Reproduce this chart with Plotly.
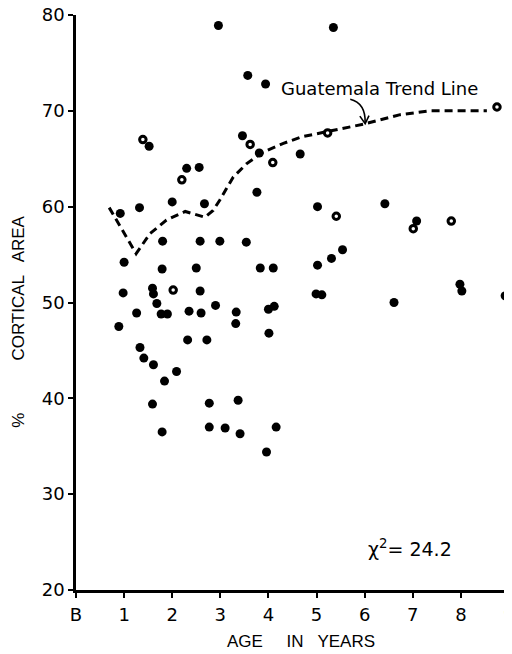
import plotly.graph_objects as go

# Solid dots: age (years), % cortical area
solid_age = [2.96, 3.57, 5.35, 3.94, 1.52, 3.46, 2.30, 2.56, 2.00, 2.67, 1.32, 0.92,
             3.76, 3.81, 4.66, 5.02, 6.42, 1.80, 2.58, 2.99, 3.54, 1.00, 1.79, 2.50,
             3.83, 4.10, 5.02, 5.31, 5.54, 0.98, 1.59, 1.61, 2.58, 4.99, 5.11, 7.98,
             8.02, 8.92, 6.61, 1.68, 1.26, 1.77, 1.90, 2.35, 2.60, 2.90, 3.33, 3.32,
             4.00, 4.12, 0.89, 4.01, 2.32, 2.72, 1.33, 1.41, 1.61, 2.09, 1.84, 1.59,
             2.77, 3.37, 1.79, 2.77, 3.10, 3.41, 4.16, 3.96, 7.08]
solid_pct = [78.9, 73.7, 78.7, 72.8, 66.3, 67.4, 64.0, 64.1, 60.5, 60.3, 59.9, 59.3,
             61.5, 65.6, 65.5, 60.0, 60.3, 56.4, 56.4, 56.4, 56.3, 54.2, 53.5, 53.6,
             53.6, 53.6, 53.9, 54.6, 55.5, 51.0, 51.5, 50.9, 51.2, 50.9, 50.8, 51.9,
             51.2, 50.7, 50.0, 49.9, 48.9, 48.8, 48.8, 49.1, 48.9, 49.7, 49.0, 47.8,
             49.3, 49.6, 47.5, 46.8, 46.1, 46.1, 45.3, 44.2, 43.5, 42.8, 41.8, 39.4,
             39.5, 39.8, 36.5, 37.0, 36.9, 36.3, 37.0, 34.4, 58.5]

# Ring (open-centred) dots
ring_age = [1.39, 3.62, 2.20, 4.09, 5.23, 5.41, 7.01, 7.80, 8.75, 2.02]
ring_pct = [67.0, 66.5, 62.8, 64.6, 67.7, 59.0, 57.7, 58.5, 70.4, 51.3]

# Guatemala trend line
trend_age = [0.69, 1.25, 1.54, 1.88, 2.27, 2.68, 2.85, 2.99, 3.27, 3.55, 3.89, 4.31,
             4.70, 5.21, 5.97, 6.74, 7.36, 8.54]
trend_pct = [59.9, 55.1, 57.2, 58.6, 59.5, 58.9, 59.6, 60.7, 63.1, 64.5, 65.7, 66.6,
             67.3, 67.8, 68.6, 69.6, 70.0, 70.0]

x_ticks = [0, 1, 2, 3, 4, 5, 6, 7, 8, 9]
x_labels = ["B", "1", "2", "3", "4", "5", "6", "7", "8", "9"]
y_ticks = [20, 30, 40, 50, 60, 70, 80]

# Curved pointer from label to trend line (data coordinates)
arrow_shaft = "M 5.70,71.2 Q 6.02,70.8 6.01,68.75"
arrow_head = "M 5.90,69.45 L 6.01,68.65 L 6.09,69.5"

FONT = "Liberation Sans"
TICKFONT = "DejaVu Sans"

fig = go.Figure()
fig.add_trace(go.Scatter(x=trend_age, y=trend_pct, mode="lines",
                         line=dict(color="black", width=3, dash="8px,5px"),
                         showlegend=False, hoverinfo="skip", cliponaxis=False))
fig.add_trace(go.Scatter(x=solid_age, y=solid_pct, mode="markers",
                         marker=dict(color="black", size=9, line=dict(width=0)),
                         showlegend=False, cliponaxis=False))
fig.add_trace(go.Scatter(x=ring_age, y=ring_pct, mode="markers",
                         marker=dict(color="white", size=6.5,
                                     line=dict(color="black", width=3)),
                         showlegend=False, cliponaxis=False))

fig.add_shape(type="path", path=arrow_shaft, xref="x", yref="y",
              line=dict(color="black", width=1.6))
fig.add_shape(type="path", path=arrow_head, xref="x", yref="y",
              line=dict(color="black", width=1.6))

fig.add_annotation(x=6.3, y=72.3, xref="x", yref="y", text="Guatemala Trend Line",
                   showarrow=False, font=dict(family=TICKFONT, size=18, color="black"))
fig.add_annotation(x=6.95, y=24.4, xref="x", yref="y",
                   text="χ<sup>2</sup>= 24.2", showarrow=False,
                   font=dict(family=TICKFONT, size=19, color="black"))

# Axis titles
fig.add_annotation(x=-0.1316, y=48.0, xref="paper", yref="y", textangle=-90,
                   text="%           CORTICAL   AREA", showarrow=False,
                   xanchor="center", yanchor="middle",
                   font=dict(family=FONT, size=17, color="black"))
fig.add_annotation(x=4.68, y=-0.09, xref="x", yref="paper",
                   text="AGE     IN   YEARS", showarrow=False,
                   xanchor="center", yanchor="middle",
                   font=dict(family=FONT, size=17, color="black"))

fig.update_layout(
    width=504, height=646,
    margin=dict(l=68, r=3, t=7, b=64, autoexpand=False),
    paper_bgcolor="white", plot_bgcolor="white",
    font=dict(family=TICKFONT, size=18, color="black"),
    xaxis=dict(range=[0, 9], tickmode="array", tickvals=x_ticks, ticktext=x_labels,
               showgrid=False, zeroline=False, showline=True, linecolor="black",
               linewidth=2.5, ticks="outside", ticklen=5, tickwidth=2,
               tickcolor="black", tickfont=dict(size=18), automargin=False,
               ticklabelstandoff=2, ticklabeloverflow="allow"),
    yaxis=dict(range=[20, 80], tickmode="array", tickvals=y_ticks,
               showgrid=False, zeroline=False, showline=True, linecolor="black",
               linewidth=2.5, ticks="outside", ticklen=5, tickwidth=2,
               tickcolor="black", tickfont=dict(size=18), automargin=False,
               ticklabeloverflow="allow"),
)

fig.write_html("out.html")
